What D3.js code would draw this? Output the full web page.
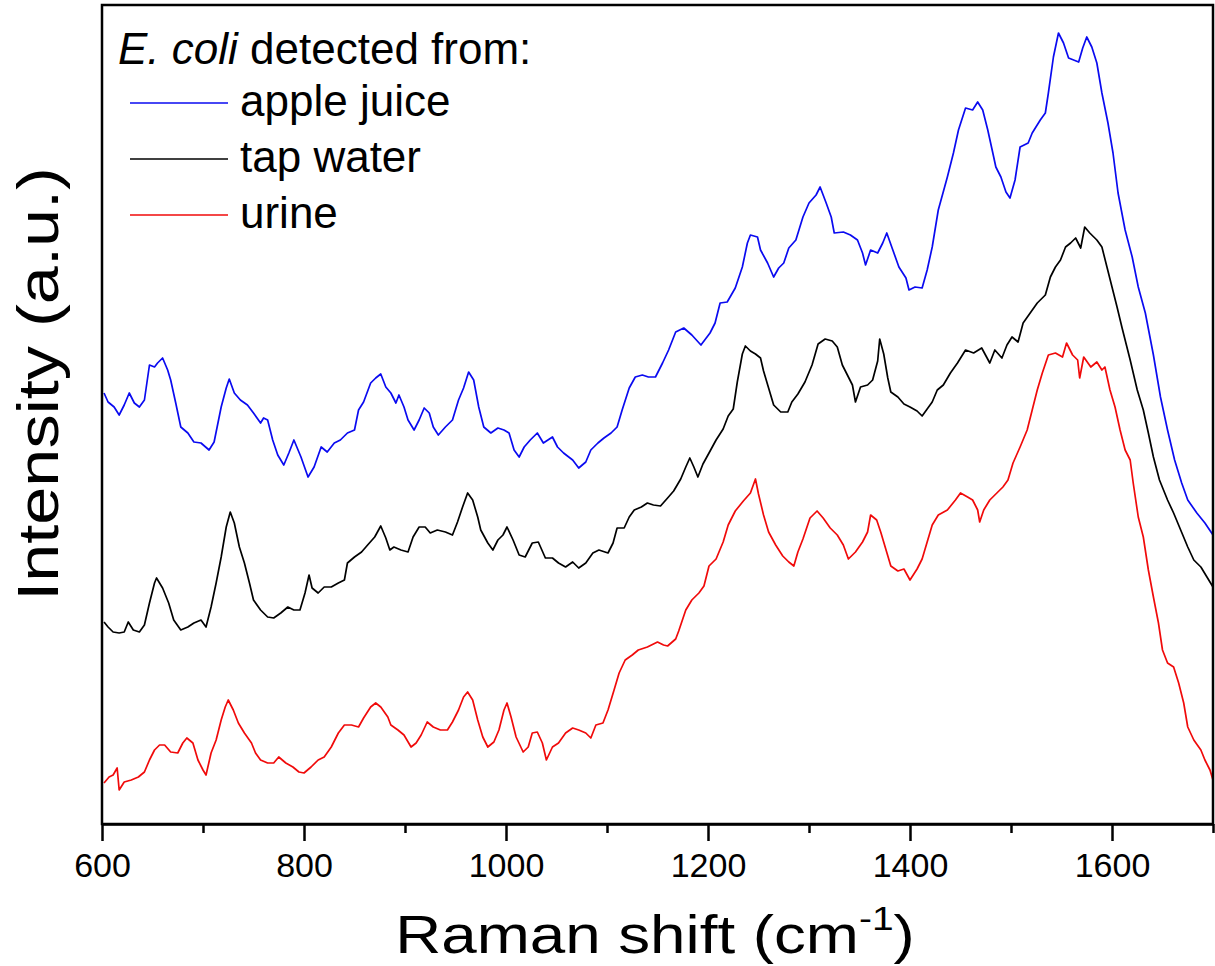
<!DOCTYPE html>
<html>
<head>
<meta charset="utf-8">
<script src="https://cdn.jsdelivr.net/npm/d3@7"></script>
<style>
  html, body { margin: 0; padding: 0; background: #fff; }
  svg { display: block; }
  text { font-family: "Liberation Sans", Arial, Helvetica, sans-serif; fill: #000; }
</style>
</head>
<body>
<svg id="chart" width="1215" height="966"></svg>
<script>
// Raman shift (cm^-1) vs intensity (a.u.)
const appleJuice = [[602,431],[606,422],[612,417],[617,409],[622,419],[627,431],[632,421],[637,417],[642,424],[647,459],[652,457],[655,461],[660,466],[665,454],[668,444],[673,421],[678,397],[685,391],[691,382],[698,381],[706,374],[711,382],[718,417],[723,436],[726,445],[731,431],[737,424],[744,419],[750,411],[757,401],[760,406],[764,404],[769,384],[774,369],[780,359],[785,371],[790,384],[797,367],[804,347],[810,357],[817,377],[823,372],[830,381],[836,384],[843,391],[850,394],[854,414],[859,422],[866,441],[871,446],[876,450],[881,437],[886,431],[891,421],[894,429],[899,417],[903,404],[909,394],[914,404],[919,416],[924,411],[928,397],[933,389],[940,397],[947,404],[953,424],[958,436],[963,452],[968,444],[973,417],[978,397],[985,391],[992,396],[998,394],[1003,391],[1008,374],[1013,367],[1018,377],[1024,384],[1031,391],[1037,381],[1046,387],[1051,377],[1057,371],[1066,364],[1072,356],[1079,362],[1084,374],[1091,381],[1097,386],[1104,391],[1110,397],[1115,414],[1122,436],[1128,447],[1135,449],[1141,447],[1148,447],[1155,461],[1161,474],[1168,492],[1176,496],[1184,489],[1193,479],[1202,491],[1207,501],[1212,521],[1219,522],[1227,536],[1234,557],[1239,581],[1242,589],[1249,587],[1252,574],[1259,561],[1265,547],[1270,556],[1275,561],[1280,576],[1287,584],[1294,607],[1300,621],[1307,629],[1311,637],[1317,621],[1322,607],[1325,591],[1334,592],[1341,589],[1348,584],[1353,571],[1356,559],[1361,574],[1368,571],[1373,581],[1377,591],[1383,574],[1389,557],[1396,546],[1399,534],[1405,537],[1412,536],[1417,554],[1422,577],[1428,614],[1437,647],[1443,671],[1448,694],[1455,716],[1462,714],[1467,722],[1472,714],[1477,694],[1482,671],[1485,657],[1490,647],[1495,632],[1499,626],[1504,644],[1509,677],[1517,681],[1521,691],[1529,704],[1534,711],[1537,731],[1542,767],[1547,791],[1552,781],[1557,766],[1562,764],[1567,762],[1571,776],[1575,787],[1580,777],[1585,761],[1590,731],[1596,701],[1601,671],[1606,631],[1613,594],[1620,567],[1626,537],[1633,511],[1641,469],[1648,427],[1655,394],[1662,364],[1669,341],[1675,324],[1684,311],[1692,301],[1700,289]];

const tapWater = [[602,202],[606,197],[611,192],[617,191],[622,192],[626,202],[631,194],[637,192],[642,199],[647,221],[652,241],[654,246],[660,236],[666,221],[671,204],[678,194],[685,197],[691,201],[698,204],[703,197],[708,217],[713,241],[718,267],[723,297],[727,312],[731,301],[736,277],[741,261],[746,241],[750,224],[757,214],[764,207],[770,206],[777,211],[784,217],[790,214],[796,214],[801,231],[805,249],[808,236],[814,231],[820,237],[827,237],[834,241],[840,244],[843,261],[850,267],[857,272],[863,279],[870,287],[876,298],[881,286],[885,274],[889,277],[896,274],[903,272],[908,287],[914,297],[920,297],[925,291],[932,294],[940,292],[947,289],[952,302],[957,317],[962,331],[967,324],[972,307],[975,294],[982,281],[987,274],[992,284],[997,289],[1001,297],[1007,284],[1013,269],[1019,267],[1026,281],[1032,282],[1039,266],[1046,266],[1052,261],[1059,257],[1066,262],[1072,256],[1079,261],[1086,271],[1092,274],[1101,271],[1106,281],[1110,296],[1117,296],[1122,307],[1127,314],[1134,317],[1140,321],[1146,319],[1153,318],[1160,326],[1166,333],[1173,345],[1178,357],[1182,366],[1186,357],[1190,347],[1195,360],[1201,371],[1208,384],[1215,395],[1220,408],[1225,415],[1229,442],[1234,470],[1237,478],[1242,473],[1247,470],[1252,466],[1255,453],[1260,436],[1265,419],[1272,412],[1279,412],[1283,422],[1289,430],[1296,442],[1303,459],[1309,480],[1316,485],[1323,483],[1328,477],[1333,459],[1338,449],[1343,439],[1346,422],[1351,437],[1358,439],[1363,444],[1368,463],[1370,485],[1374,470],[1378,446],[1381,432],[1388,427],[1394,420],[1400,417],[1407,413],[1412,408],[1417,415],[1422,422],[1427,434],[1433,439],[1440,451],[1447,461],[1455,474],[1463,471],[1471,476],[1479,461],[1484,474],[1491,466],[1496,479],[1501,487],[1507,482],[1512,501],[1519,511],[1526,521],[1534,529],[1539,547],[1544,557],[1549,564],[1554,577],[1559,581],[1564,586],[1569,576],[1573,597],[1578,591],[1585,584],[1590,577],[1595,557],[1600,537],[1605,517],[1610,496],[1618,464],[1625,434],[1631,414],[1636,391],[1641,367],[1647,344],[1655,324],[1661,311],[1668,294],[1675,277],[1681,264],[1688,257],[1694,247],[1700,237]];

const urine = [[602,41],[607,47],[611,49],[615,56],[617,34],[622,42],[629,44],[636,47],[642,52],[647,64],[652,74],[657,79],[662,79],[668,72],[675,71],[680,81],[684,86],[690,81],[695,64],[700,54],[703,49],[708,71],[713,84],[718,104],[722,117],[725,124],[730,114],[735,101],[741,91],[748,81],[752,71],[757,64],[764,61],[770,61],[775,67],[782,61],[789,57],[795,52],[800,51],[807,57],[814,64],[820,67],[827,77],[834,91],[840,99],[847,99],[854,97],[859,106],[866,117],[871,121],[876,117],[883,107],[886,99],[893,94],[899,89],[906,77],[911,81],[916,89],[922,102],[928,97],[935,94],[942,94],[947,102],[953,114],[958,127],[962,132],[967,124],[972,104],[977,87],[982,77],[988,82],[993,94],[998,114],[1001,121],[1005,107],[1010,87],[1017,72],[1022,77],[1026,91],[1031,92],[1036,81],[1040,64],[1046,77],[1052,81],[1059,91],[1066,96],[1072,94],[1079,91],[1084,86],[1089,99],[1096,101],[1101,114],[1107,134],[1112,151],[1118,164],[1125,169],[1131,174],[1140,177],[1150,182],[1156,179],[1160,178],[1168,185],[1171,193],[1178,214],[1184,224],[1191,231],[1196,238],[1201,258],[1208,265],[1215,282],[1220,299],[1227,313],[1235,323],[1242,331],[1247,345],[1250,330],[1255,309],[1260,292],[1267,279],[1274,268],[1280,262],[1285,258],[1289,272],[1294,285],[1301,306],[1308,313],[1314,306],[1321,296],[1328,289],[1334,279],[1339,265],[1346,272],[1353,282],[1358,292],[1361,309],[1367,304],[1371,292],[1376,275],[1381,258],[1388,253],[1394,255],[1400,244],[1407,255],[1412,265],[1417,282],[1422,299],[1428,309],[1437,314],[1445,324],[1450,331],[1457,327],[1462,324],[1467,314],[1469,302],[1473,314],[1479,324],[1486,331],[1492,337],[1497,344],[1502,361],[1509,377],[1516,394],[1521,414],[1526,434],[1531,451],[1537,469],[1544,471],[1551,467],[1555,481],[1561,469],[1566,464],[1568,446],[1572,467],[1579,457],[1585,462],[1590,454],[1593,457],[1598,434],[1603,417],[1608,394],[1613,374],[1618,364],[1621,341],[1626,307],[1631,287],[1636,254],[1641,227],[1646,201],[1650,174],[1655,161],[1661,157],[1666,141],[1671,121],[1675,97],[1681,84],[1688,74],[1692,64],[1697,54],[1700,44]];

const seriesNames = ["apple juice", "tap water", "urine"];
const xMajorTicks = [600, 800, 1000, 1200, 1400, 1600];
const xMinorTicks = [700, 900, 1100, 1300, 1500, 1700];
const xDomain = [600, 1700];
const yDomain = [0, 819];

const colors = ["#0a0af0", "#000000", "#f00a0a"];
const series = [appleJuice, tapWater, urine];

const svg = d3.select("#chart");
const plotLeft = 102, plotRight = 1213, plotTop = 5, plotBottom = 824;

const x = d3.scaleLinear().domain(xDomain).range([plotLeft, plotRight]);
const y = d3.scaleLinear().domain(yDomain).range([plotBottom, plotTop]);

// spectra
const line = d3.line().x(d => x(d[0])).y(d => y(d[1]));
series.forEach((s, i) => {
  svg.append("path")
    .datum(s)
    .attr("fill", "none")
    .attr("stroke", colors[i])
    .attr("stroke-width", 1.7)
    .attr("stroke-linejoin", "round")
    .attr("d", line);
});

// frame
svg.append("rect")
  .attr("x", plotLeft).attr("y", plotTop)
  .attr("width", plotRight - plotLeft).attr("height", plotBottom - plotTop)
  .attr("fill", "none").attr("stroke", "#000").attr("stroke-width", 2.5);

// bottom axis
const axisMajor = d3.axisBottom(x).tickValues(xMajorTicks).tickSize(17).tickSizeOuter(0).tickPadding(12).tickFormat(d3.format("d"));
const gx = svg.append("g").attr("transform", `translate(0,${plotBottom})`).call(axisMajor);
gx.select(".domain").attr("stroke-width", 2.5);
gx.selectAll(".tick line").attr("stroke-width", 2.5);
gx.selectAll(".tick text")
  .attr("font-size", 34)
  .style("font-family", '"Liberation Sans", Arial, sans-serif');

const axisMinor = d3.axisBottom(x).tickValues(xMinorTicks).tickSize(9).tickSizeOuter(0).tickFormat("");
const gxm = svg.append("g").attr("transform", `translate(0,${plotBottom})`).call(axisMinor);
gxm.select(".domain").remove();
gxm.selectAll(".tick line").attr("stroke-width", 2.5);

// axis titles
const xt = svg.append("text")
  .attr("transform", `translate(655,953) scale(1.18,1)`)
  .attr("text-anchor", "middle")
  .attr("font-size", 54);
xt.append("tspan").text("Raman shift (cm");
xt.append("tspan").attr("font-size", 33).attr("dy", -23).text("-1");
xt.append("tspan").attr("dy", 23).text(")");

svg.append("text")
  .attr("transform", `translate(58,384) rotate(-90) scale(1.18,1)`)
  .attr("text-anchor", "middle")
  .attr("font-size", 58)
  .text("Intensity (a.u.)");

// legend
const lg = svg.append("g");
const lt = lg.append("text").attr("x", 118).attr("y", 64).attr("font-size", 44);
lt.append("tspan").attr("font-style", "italic").text("E. coli");
lt.append("tspan").text(" detected from:");

const legendRowY = d3.scalePoint().domain(seriesNames).range([103, 215]);
seriesNames.forEach((name, i) => {
  const yy = legendRowY(name);
  lg.append("line")
    .attr("x1", 130).attr("x2", 228)
    .attr("y1", yy).attr("y2", yy)
    .attr("stroke", colors[i]).attr("stroke-width", 1.6);
  lg.append("text")
    .attr("x", 240).attr("y", yy + 13)
    .attr("font-size", 44)
    .text(name);
});
</script>
</body>
</html>
